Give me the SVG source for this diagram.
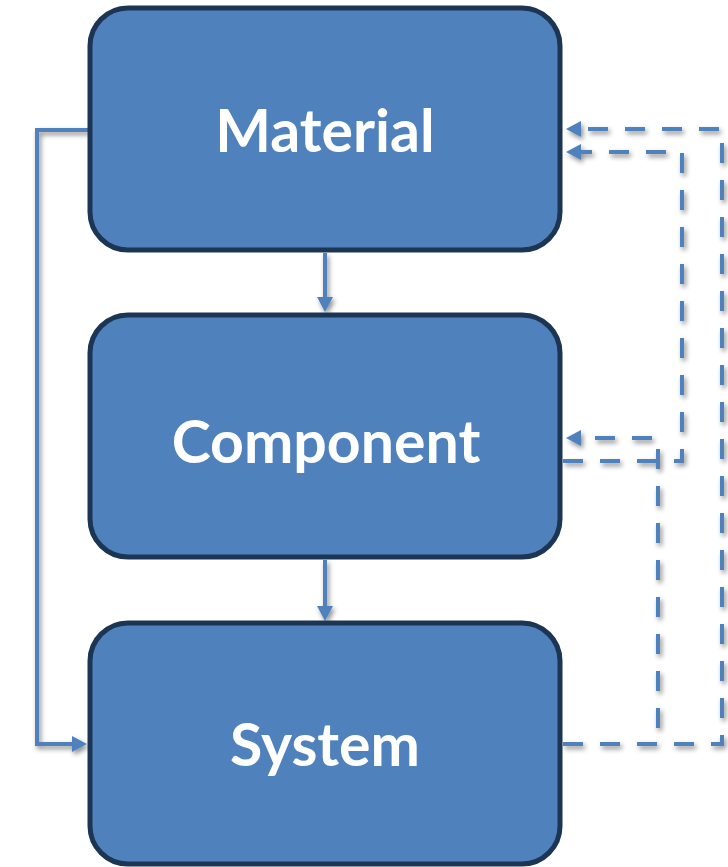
<svg xmlns="http://www.w3.org/2000/svg" width="728" height="867" viewBox="0 0 728 867">
  <defs>
    <style>
      .box { fill: #4f81bd; stroke: #1c3553; stroke-width: 5; }
      .label { fill: #ffffff; font-family: Lato, "Open Sans", "Liberation Sans", sans-serif; font-weight: bold; font-size: 59px; text-anchor: middle; }
      .solid { fill: none; stroke: #4f81bd; stroke-width: 4; }
      .dash { fill: none; stroke: #4f81bd; stroke-width: 4; stroke-dasharray: 20 17; }
    </style>
    <marker id="arrow" viewBox="0 0 15 16" refX="1" refY="8" markerWidth="15" markerHeight="16" markerUnits="userSpaceOnUse" orient="auto">
      <path d="M0,0 L15,8 L0,16 Z" fill="#4f81bd"/>
    </marker>
    <filter id="shadow" filterUnits="userSpaceOnUse" x="0" y="0" width="728" height="867">
      <feDropShadow dx="2" dy="3" stdDeviation="2.5" flood-color="#000" flood-opacity="0.45"/>
    </filter>
  </defs>

  <g id="connectors" filter="url(#shadow)">
    <path class="solid" d="M325,253 V298" marker-end="url(#arrow)"/>
    <path class="solid" d="M325,560 V607" marker-end="url(#arrow)"/>
    <path class="solid" d="M88,130 H37 V744 H73" marker-end="url(#arrow)"/>
    <path class="dash" d="M563,461 H682 V152 H580" marker-end="url(#arrow)"/>
    <path class="dash" d="M563,744 H722 V129 H580" marker-end="url(#arrow)"/>
    <path class="dash" d="M563,744 H658 V438 H580" marker-end="url(#arrow)"/>
  </g>

  <g id="material">
    <rect class="box" x="90" y="8" width="470" height="242" rx="38" ry="38"/>
    <text class="label" x="325" y="152">Material</text>
  </g>
  <g id="component">
    <rect class="box" x="90" y="315" width="470" height="242" rx="38" ry="38"/>
    <text class="label" x="326" y="463">Component</text>
  </g>
  <g id="system">
    <rect class="box" x="90" y="623" width="470" height="241" rx="38" ry="38"/>
    <text class="label" x="325" y="766">System</text>
  </g>
</svg>
